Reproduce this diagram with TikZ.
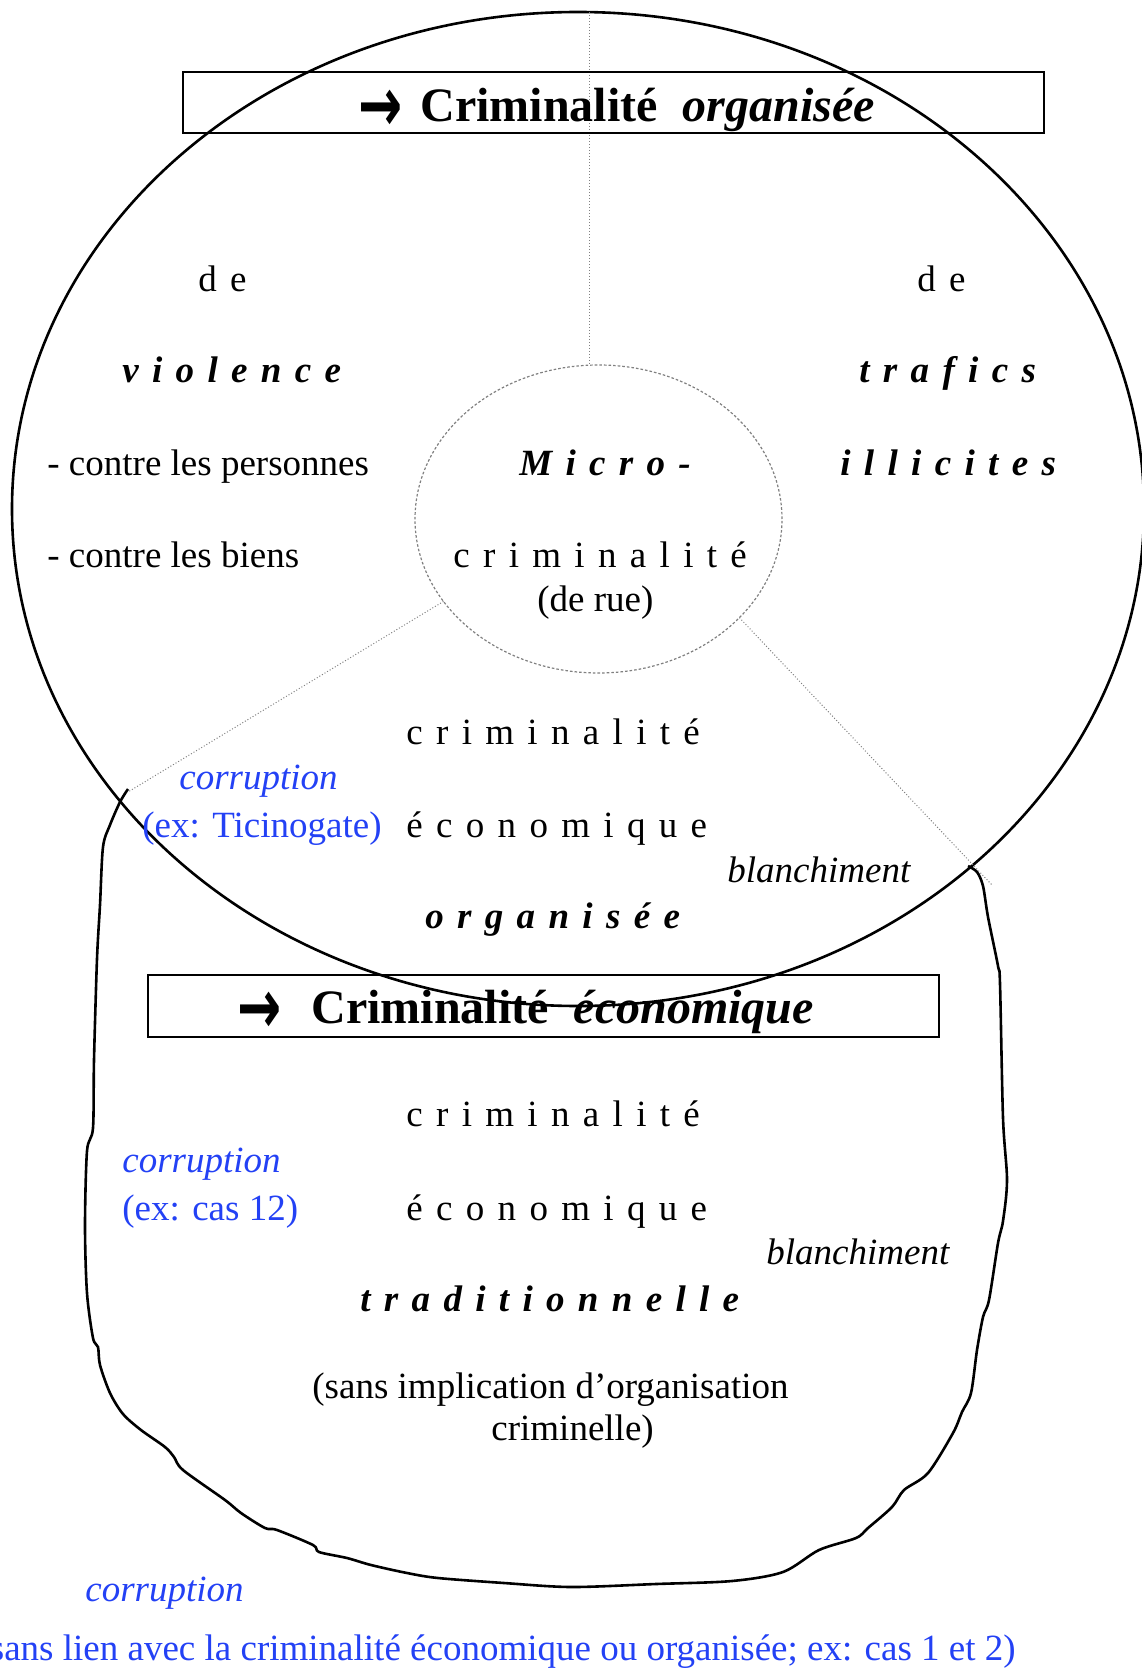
\documentclass[tikz,border=0pt]{standalone}
\usepackage{graphicx}
\usepackage{fontspec}
\setmainfont{Liberation Serif}
\newfontfamily\arrowfont{DejaVu Sans}
\usetikzlibrary{shapes.geometric}
\definecolor{corrblue}{RGB}{35,65,245}
\newcommand{\esp}[1]{{\addfontfeatures{LetterSpace=36}#1}}
\newcommand{\ttlarrow}{\raisebox{-5pt}{\scalebox{1.1}[1.6]{\arrowfont →}}}

\begin{document}
\begin{tikzpicture}[x=0.5pt, y=-0.5pt,
  txt/.style={inner sep=0pt, anchor=base west, font=\fontsize{18.5}{22}\selectfont},
  corr/.style={txt, text=corrblue},
  ttl/.style={inner sep=0pt, anchor=base west, font=\fontsize{24}{28}\selectfont\bfseries},
  ttlbox/.style={draw, line width=1pt, inner sep=0pt, outer sep=0pt},
  ring/.style={draw, ellipse, line width=1.3pt, inner sep=0pt, outer sep=0pt},
  microring/.style={ring, draw=gray, densely dotted, line width=0.6pt},
  link/.style={gray, densely dotted, line width=0.5pt},
  blob/.style={line width=1.3pt, line join=round}]
\useasboundingbox (0,0) rectangle (1141,1668);

\node[ring, minimum width=566pt, minimum height=497pt] (orga) at (578,509) {};
\node[microring, minimum width=183.5pt, minimum height=154pt] (micro) at (598.5,519) {};

\coordinate (topdot) at (589,12);
\coordinate (corrtick) at (128,792);
\coordinate (blanchtick) at (992,885);
\draw[link] (topdot) -- (topdot |- micro.north);
\draw[link] (micro.208) -- (corrtick);
\draw[link] (micro.-35) -- (blanchtick);

\node[ttlbox, minimum width=430.5pt, minimum height=30.5pt] (boxorg) at (613.5,102.5) {};
\node[ttlbox, minimum width=395.5pt, minimum height=31pt] (boxeco) at (543.5,1006) {};
\node[ttl] (ttlorg) at (358,122) {\ttlarrow\hspace{9pt}Criminalité\hspace{12.5pt}\textit{organisée}};
\node[ttl] (ttleco) at (237,1023) {\ttlarrow\hspace{15pt}Criminalité\hspace{12.5pt}\textit{économique}};

\draw[blob] plot[smooth, tension=.5] coordinates {(128,789) (120,802) (110,825) (103,847) (100,905) (97,959) (94,1060) (93,1128) (87,1151) (85,1226) (87,1293) (93,1338) (98,1347) (100,1365) (110,1393) (123,1414) (141,1430) (165,1447) (174,1457) (183,1470) (225,1500) (241,1513) (265,1528) (277,1530) (313,1545) (319,1552) (347,1558) (371,1565) (407,1573) (438,1578) (504,1583) (571,1587) (656,1584) (732,1581) (783,1572) (819,1550) (856,1538) (868,1528) (892,1507) (904,1490) (928,1473) (953,1433) (962,1412) (971,1393) (977,1350) (983,1317) (989,1300) (998,1243) (1003,1221) (1007,1180) (1003,1118) (1000,984) (998,966) (988,917) (983,886) (977,872) (968,866)};

\node[txt] (del) at (198,292) {\esp{de}};
\node[txt] (violence) at (122,383) {\bfseries\itshape\esp{violence}};
\node[txt] (personnes) at (47,475) {- contre les personnes};
\node[txt] (biens) at (47,567) {- contre les biens};

\node[txt] (der) at (917,292) {\esp{de}};
\node[txt] (trafics) at (859,383) {\bfseries\itshape\esp{trafics}};
\node[txt] (illicites) at (840,475) {\bfseries\itshape\esp{illicites}};

\node[txt] (microa) at (519,475) {\bfseries\itshape\esp{Micro-}};
\node[txt] (microb) at (453,567) {\esp{criminalité}};
\node[txt] (derue) at (537,611) {(de rue)};

\node[txt] (crimorg) at (406,744) {\esp{criminalité}};
\node[corr] (corra) at (179,789) {\itshape corruption};
\node[corr] (exa) at (142,837) {(ex: Ticinogate)};
\node[txt] (ecoorg) at (406,837) {\esp{économique}};
\node[txt] (blancha) at (727,882) {\itshape blanchiment};
\node[txt] (organisee) at (425,928) {\bfseries\itshape\esp{organisée}};

\node[txt] (crimtrad) at (406,1126) {\esp{criminalité}};
\node[corr] (corrb) at (122,1172) {\itshape corruption};
\node[corr] (exb) at (122,1220) {(ex: cas 12)};
\node[txt] (ecotrad) at (406,1220) {\esp{économique}};
\node[txt] (blanchb) at (766,1264) {\itshape blanchiment};
\node[txt] (trad) at (360,1311) {\bfseries\itshape\esp{traditionnelle}};
\node[txt] (sansa) at (312,1398) {(sans implication d’organisation};
\node[txt] (sansb) at (491,1440) {criminelle)};

\node[corr] (corrc) at (85,1601) {\itshape corruption};
\node[corr, anchor=base east] (sanslien) at (1016,1660) {(sans lien avec la criminalité économique ou organisée; ex: cas 1 et 2)};
\end{tikzpicture}
\end{document}
